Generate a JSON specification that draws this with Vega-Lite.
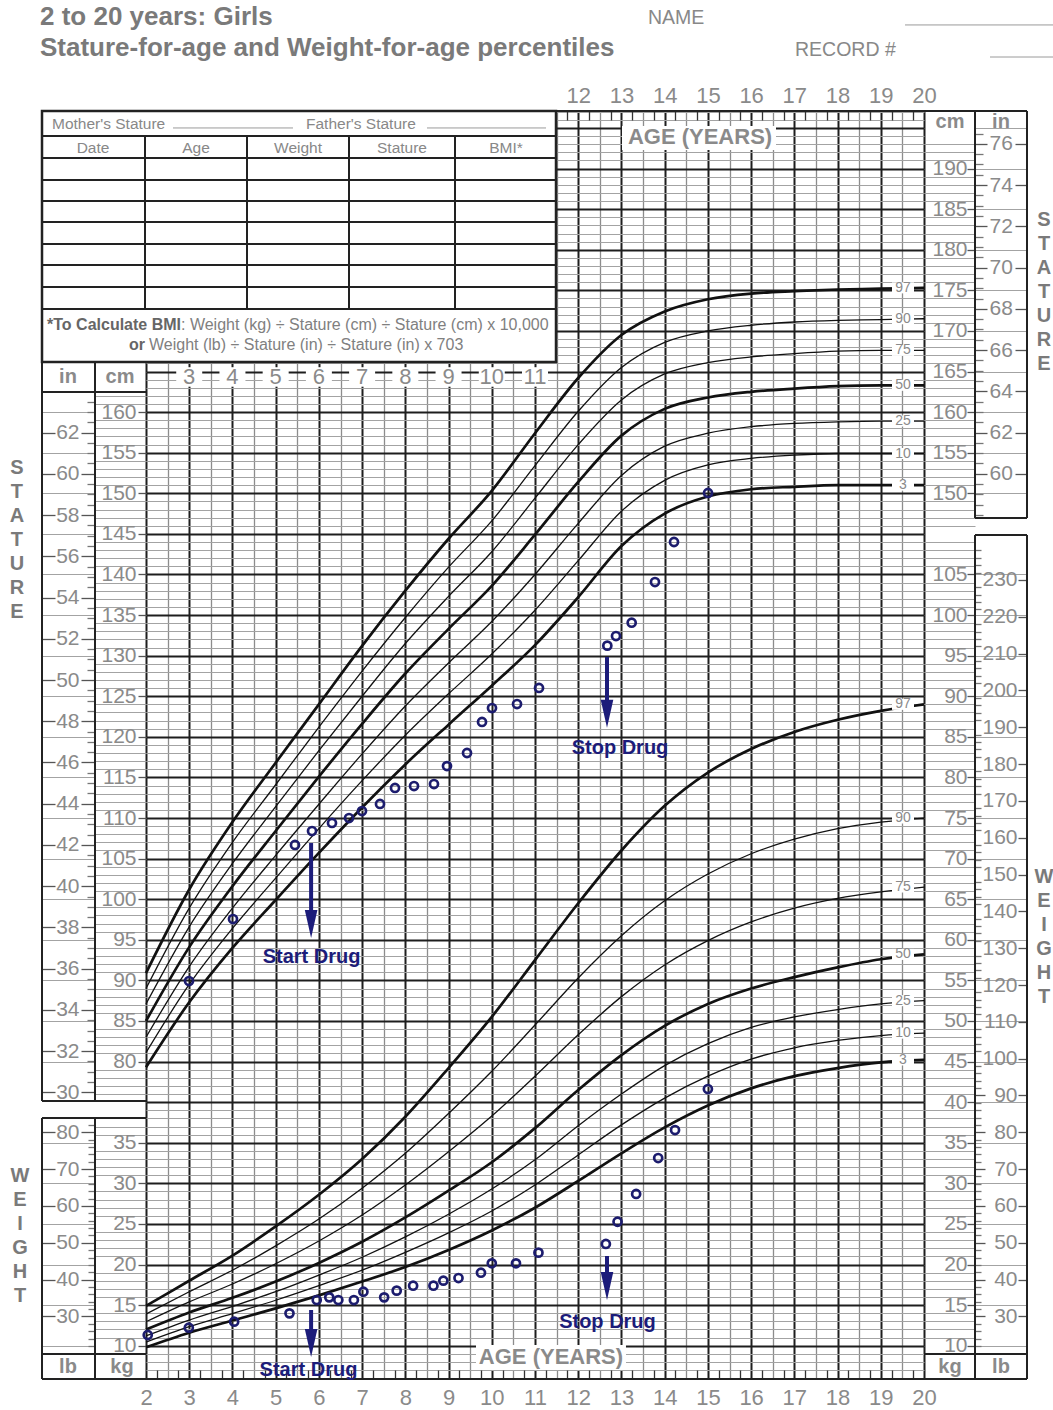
{
"$schema":"https://vega.github.io/schema/vega-lite/v6.json",
"width":778,"height":1268,
"autosize":{"type":"none"},
"padding":{"left":146,"top":111,"right":129,"bottom":31},
"background":"white",
"config":{"view":{"stroke":null},
 "axis":{"domain":false,"grid":false,"labels":false,"ticks":false,"labelFont":"Liberation Sans","labelColor":"#8a8a8a","labelFontSize":21,"labelFlush":false,"labelOverlap":false,"tickColor":"#555555","tickWidth":1.3,"gridOpacity":1},
 "text":{"font":"Liberation Sans"}},
"resolve":{"scale":{"y":"independent"},"axis":{"x":"independent","y":"independent"}},
"datasets":{
 "one":[{"v":50,"a":10}],
 "stat":[
  {"age":2,"3":79.3,"10":81.1,"25":83.0,"50":85.0,"75":87.1,"90":89.0,"97":90.9},
  {"age":3,"3":87.3,"10":89.5,"25":91.7,"50":94.1,"75":96.6,"90":98.9,"97":101.2},
  {"age":4,"3":94.0,"10":96.4,"25":98.9,"50":101.6,"75":104.4,"90":107.0,"97":109.5},
  {"age":5,"3":99.9,"10":102.6,"25":105.4,"50":108.4,"75":111.4,"90":114.1,"97":116.8},
  {"age":6,"3":105.7,"10":108.7,"25":111.7,"50":115.1,"75":118.3,"90":121.2,"97":124.0},
  {"age":7,"3":111.3,"10":114.6,"25":117.9,"50":121.6,"75":125.0,"90":128.1,"97":131.2},
  {"age":8,"3":116.6,"10":120.2,"25":123.8,"50":127.8,"75":131.5,"90":134.7,"97":138.0},
  {"age":9,"3":121.5,"10":125.3,"25":129.1,"50":133.3,"75":137.3,"90":140.9,"97":144.4},
  {"age":10,"3":126.3,"10":130.2,"25":134.2,"50":138.6,"75":142.8,"90":146.6,"97":150.3},
  {"age":11,"3":131.3,"10":135.6,"25":140.0,"50":144.9,"75":149.4,"90":153.4,"97":157.4},
  {"age":12,"3":137.2,"10":141.7,"25":146.3,"50":151.4,"75":156.0,"90":160.1,"97":164.2},
  {"age":13,"3":143.5,"10":147.8,"25":152.2,"50":157.1,"75":161.5,"90":165.5,"97":169.5},
  {"age":14,"3":147.5,"10":151.6,"25":155.8,"50":160.4,"75":164.7,"90":168.6,"97":172.4},
  {"age":15,"3":149.6,"10":153.5,"25":157.4,"50":161.8,"75":166.1,"90":170.0,"97":173.9},
  {"age":16,"3":150.5,"10":154.3,"25":158.2,"50":162.5,"75":166.8,"90":170.7,"97":174.6},
  {"age":17,"3":150.8,"10":154.7,"25":158.6,"50":162.9,"75":167.2,"90":171.1,"97":174.9},
  {"age":18,"3":151.0,"10":154.9,"25":158.8,"50":163.2,"75":167.5,"90":171.3,"97":175.1},
  {"age":19,"3":151.0,"10":154.9,"25":158.9,"50":163.3,"75":167.6,"90":171.4,"97":175.2},
  {"age":20,"3":151.0,"10":154.9,"25":158.9,"50":163.3,"75":167.6,"90":171.5,"97":175.3}],
 "wt":[
  {"age":2,"3":9.8,"10":10.45,"25":11.2,"50":12.0,"75":12.95,"90":13.9,"97":14.9},
  {"age":3,"3":11.6,"10":12.35,"25":13.15,"50":14.1,"75":15.4,"90":16.65,"97":18.0},
  {"age":4,"3":13.1,"10":13.95,"25":14.85,"50":15.9,"75":17.6,"90":19.3,"97":21.1},
  {"age":5,"3":14.6,"10":15.6,"25":16.65,"50":17.9,"75":20.1,"90":22.3,"97":24.7},
  {"age":6,"3":16.2,"10":17.4,"25":18.7,"50":20.2,"75":22.9,"90":25.6,"97":28.6},
  {"age":7,"3":17.9,"10":19.3,"25":20.9,"50":22.8,"75":26.1,"90":29.4,"97":33.0},
  {"age":8,"3":19.7,"10":21.5,"25":23.4,"50":25.8,"75":29.8,"90":33.7,"97":38.2},
  {"age":9,"3":21.8,"10":23.9,"25":26.2,"50":29.1,"75":33.9,"90":38.6,"97":44.2},
  {"age":10,"3":24.2,"10":26.6,"25":29.3,"50":32.6,"75":38.3,"90":43.8,"97":50.5},
  {"age":11,"3":27.0,"10":29.8,"25":32.9,"50":36.8,"75":43.2,"90":49.5,"97":57.5},
  {"age":12,"3":30.3,"10":33.5,"25":37.1,"50":41.5,"75":48.3,"90":55.3,"97":64.5},
  {"age":13,"3":33.7,"10":37.2,"25":41.0,"50":45.8,"75":53.0,"90":60.5,"97":71.0},
  {"age":14,"3":36.9,"10":40.5,"25":44.5,"50":49.4,"75":56.9,"90":64.8,"97":76.5},
  {"age":15,"3":39.6,"10":43.2,"25":47.2,"50":52.1,"75":59.9,"90":68.1,"97":80.6},
  {"age":16,"3":41.7,"10":45.3,"25":49.2,"50":54.0,"75":62.2,"90":70.6,"97":83.5},
  {"age":17,"3":43.2,"10":46.7,"25":50.5,"50":55.4,"75":63.9,"90":72.4,"97":85.6},
  {"age":18,"3":44.2,"10":47.6,"25":51.4,"50":56.6,"75":65.1,"90":73.7,"97":87.1},
  {"age":19,"3":44.9,"10":48.2,"25":52.1,"50":57.6,"75":65.9,"90":74.5,"97":88.2},
  {"age":20,"3":45.2,"10":48.5,"25":52.5,"50":58.2,"75":66.5,"90":75.0,"97":89.0}],
 "sp":[
  {"age":2.995,"cm":89.92},{"age":4.013,"cm":97.56},{"age":5.447,"cm":106.68},{"age":5.841,"cm":108.4},
  {"age":6.303,"cm":109.39},{"age":6.697,"cm":110.0},{"age":6.997,"cm":110.86},{"age":7.414,"cm":111.73},
  {"age":7.761,"cm":113.7},{"age":8.201,"cm":113.94},{"age":8.663,"cm":114.19},{"age":8.964,"cm":116.4},
  {"age":9.427,"cm":118.01},{"age":9.774,"cm":121.83},{"age":10.005,"cm":123.55},{"age":10.584,"cm":124.04},
  {"age":11.093,"cm":126.02},{"age":12.673,"cm":131.23},{"age":12.874,"cm":132.42},{"age":13.237,"cm":134.06},
  {"age":13.776,"cm":139.07},{"age":14.216,"cm":144.0},{"age":15.003,"cm":150.04}],
 "wp":[
  {"age":2.04,"kg":11.32},{"age":2.99,"kg":12.22},{"age":4.04,"kg":12.96},{"age":5.32,"kg":13.99},
  {"age":5.95,"kg":15.63},{"age":6.24,"kg":15.96},{"age":6.45,"kg":15.63},{"age":6.81,"kg":15.63},
  {"age":7.03,"kg":16.65},{"age":7.51,"kg":15.96},{"age":7.8,"kg":16.78},{"age":8.18,"kg":17.39},
  {"age":8.65,"kg":17.39},{"age":8.88,"kg":18.01},{"age":9.23,"kg":18.34},{"age":9.75,"kg":18.99},
  {"age":10.0,"kg":20.15},{"age":10.56,"kg":20.15},{"age":11.08,"kg":21.46},{"age":12.64,"kg":22.53},
  {"age":12.91,"kg":25.27},{"age":13.34,"kg":28.69},{"age":13.85,"kg":33.12},{"age":14.24,"kg":36.57},
  {"age":15.0,"kg":41.62}],
 "frame":[
  {"x1":-0.406,"x2":22.383,"y1":197.09,"y2":197.09},
  {"x1":-0.406,"x2":22.383,"y1":40.9,"y2":40.9},
  {"x1":-0.406,"x2":-0.406,"y1":75.14,"y2":166.17},
  {"x1":0.82,"x2":0.82,"y1":75.14,"y2":166.17},
  {"x1":-0.406,"x2":2,"y1":162.48,"y2":162.48},
  {"x1":-0.406,"x2":2,"y1":75.14,"y2":75.14},
  {"x1":-0.406,"x2":-0.406,"y1":40.9,"y2":73.05},
  {"x1":0.82,"x2":0.82,"y1":40.9,"y2":73.05},
  {"x1":-0.406,"x2":2,"y1":73.05,"y2":73.05},
  {"x1":-0.406,"x2":2,"y1":43.98,"y2":43.98},
  {"x1":21.18,"x2":21.18,"y1":146.96,"y2":197.09},
  {"x1":22.383,"x2":22.383,"y1":146.96,"y2":197.09},
  {"x1":21.18,"x2":22.383,"y1":146.96,"y2":146.96},
  {"x1":21.18,"x2":21.18,"y1":40.9,"y2":144.86},
  {"x1":22.383,"x2":22.383,"y1":40.9,"y2":144.86},
  {"x1":21.18,"x2":22.383,"y1":144.86,"y2":144.86},
  {"x1":20,"x2":22.383,"y1":43.98,"y2":43.98},
  {"x1":-0.406,"x2":11.486,"y1":194.01,"y2":194.01},
  {"x1":-0.406,"x2":11.486,"y1":191.3,"y2":191.3},
  {"x1":-0.406,"x2":11.486,"y1":188.59,"y2":188.59},
  {"x1":-0.406,"x2":11.486,"y1":186.01,"y2":186.01},
  {"x1":-0.406,"x2":11.486,"y1":183.42,"y2":183.42},
  {"x1":-0.406,"x2":11.486,"y1":180.71,"y2":180.71},
  {"x1":-0.406,"x2":11.486,"y1":178.12,"y2":178.12},
  {"x1":-0.406,"x2":11.486,"y1":175.41,"y2":175.41},
  {"x1":-0.406,"x2":11.486,"y1":172.7,"y2":172.7},
  {"x1":1.977,"x2":1.977,"y1":172.7,"y2":194.01},
  {"x1":4.337,"x2":4.337,"y1":172.7,"y2":194.01},
  {"x1":6.697,"x2":6.697,"y1":172.7,"y2":194.01},
  {"x1":9.149,"x2":9.149,"y1":172.7,"y2":194.01}],
 "thin":[
  {"x1":19.561,"x2":22.985,"y1":207.69,"y2":207.69},
  {"x1":21.527,"x2":22.985,"y1":203.74,"y2":203.74},
  {"x1":2.625,"x2":5.401,"y1":195.0,"y2":195.0},
  {"x1":8.501,"x2":11.255,"y1":195.0,"y2":195.0}],
 "tablebox":[{"x1":-0.406,"x2":11.486,"y1":166.17,"y2":197.09}],
 "whitebox":[{"x1":13.013,"x2":16.576,"y1":192.29,"y2":195.25},{"x1":9.635,"x2":13.105,"y1":42.0,"y2":45.08}],
 "titles":[{"t":"2 to 20 years: Girls","age":-0.4525,"cm":208.67},{"t":"Stature-for-age and Weight-for-age percentiles","age":-0.4525,"cm":204.85}],
 "forms":[{"t":"NAME","age":13.615,"cm":208.55},{"t":"RECORD #","age":17.016,"cm":204.61}],
 "headers":[{"t":"in","age":0.195,"cm":164.33},{"t":"cm","age":1.398,"cm":164.33},{"t":"lb","age":0.195,"cm":42.37},{"t":"kg","age":1.445,"cm":42.37},{"t":"cm","age":20.602,"cm":195.74},{"t":"in","age":21.781,"cm":195.74},{"t":"kg","age":20.602,"cm":42.37},{"t":"lb","age":21.781,"cm":42.37}],
 "midages":[{"age":3},{"age":4},{"age":5},{"age":6},{"age":7},{"age":8},{"age":9},{"age":10},{"age":11}],
 "agetitle":[{"t":"AGE (YEARS)","age":14.818,"cm":193.89},{"t":"AGE (YEARS)","age":11.37,"cm":43.61}],
 "letters":[{"t":"S\nT\nA\nT\nU\nR\nE","age":-0.985,"cm":153.12},{"t":"W\nE\nI\nG\nH\nT","age":-0.915,"cm":65.9},{"t":"S\nT\nA\nT\nU\nR\nE","age":22.776,"cm":183.67},{"t":"W\nE\nI\nG\nH\nT","age":22.776,"cm":102.73}],
 "tablehdr":[{"t":"Date","age":0.774,"cm":192.54},{"t":"Age","age":3.157,"cm":192.54},{"t":"Weight","age":5.517,"cm":192.54},{"t":"Stature","age":7.923,"cm":192.54},{"t":"BMI*","age":10.329,"cm":192.54}],
 "parents":[{"t":"Mother's Stature","age":-0.175,"cm":195.49},{"t":"Father's Stature","age":5.702,"cm":195.49}],
 "bmibold":[{"t":"*To Calculate BMI","age":2.81,"cm":170.73},{"t":"or","age":1.977,"cm":168.27}],
 "bmireg":[{"t":": Weight (kg) ÷ Stature (cm) ÷ Stature (cm) x 10,000","age":2.81,"cm":170.73},{"t":"Weight (lb) ÷ Stature (in) ÷ Stature (in) x 703","age":2.07,"cm":168.27}],
 "drugtext":[{"t":"Start Drug","age":5.83,"cm":92.88},{"t":"Stop Drug","age":12.967,"cm":118.63},{"t":"Start Drug","age":5.76,"cm":42.0},{"t":"Stop Drug","age":12.677,"cm":47.92}],
 "arrows":[{"age":5.82,"top":106.92,"head":96.95},{"age":12.666,"top":129.84,"head":122.84},{"age":5.82,"top":49.4,"head":45.33},{"age":12.666,"top":56.05,"head":52.36}]
},
"layer":[
 {"data":{"name":"one"},"mark":{"type":"point","opacity":0},"encoding":{"y":{"field":"v","type":"quantitative","scale":{"domain":[40.9,197.09],"nice":false,"zero":false},"axis":{"title":null,"grid":true,"gridColor":"#a3a3a3","gridWidth":1.2,"tickCount":160}}}},
 {"data":{"name":"one"},"mark":{"type":"point","opacity":0},"encoding":{"x":{"field":"a","type":"quantitative","scale":{"domain":[2,20],"nice":false,"zero":false},"axis":{"title":null,"grid":true,"gridColor":"#8c8c8c","gridWidth":1.3,"values":[2.5,3.5,4.5,5.5,6.5,7.5,8.5,9.5,10.5,11.5,12.5,13.5,14.5,15.5,16.5,17.5,18.5,19.5]}}}},
 {"data":{"name":"one"},"mark":{"type":"point","opacity":0},"encoding":{"y":{"field":"v","type":"quantitative","scale":{"domain":[40.9,197.09],"nice":false,"zero":false},"axis":{"title":null,"grid":true,"gridColor":"#1e1e1e","gridWidth":2,"tickCount":31}}}},
 {"data":{"name":"one"},"mark":{"type":"point","opacity":0},"encoding":{"x":{"field":"a","type":"quantitative","scale":{"domain":[2,20],"nice":false,"zero":false},"axis":{"title":null,"orient":"bottom","grid":true,"gridColor":"#1e1e1e","gridWidth":2,"values":[2,3,4,5,6,7,8,9,10,11,12,13,14,15,16,17,18,19,20],"labels":true,"labelFontSize":22,"tickSize":0,"labelPadding":8}}}},
 {"data":{"name":"one"},"mark":{"type":"point","opacity":0},"encoding":{"x":{"field":"a","type":"quantitative","scale":{"domain":[2,20],"nice":false,"zero":false},"axis":{"title":null,"orient":"top","values":[12,13,14,15,16,17,18,19,20],"labels":true,"labelFontSize":22,"tickSize":0,"labelPadding":4}}}},
 {"data":{"name":"one"},"mark":{"type":"point","opacity":0},"encoding":{"x":{"field":"a","type":"quantitative","scale":{"domain":[2,20],"nice":false,"zero":false},"axis":{"title":null,"orient":"bottom","ticks":true,"tickSize":-9,"tickColor":"#333333","values":[2.25,2.75,3.25,3.75,4.25,4.75,5.25,5.75,6.25,6.75,7.25,7.75,8.25,8.75,9.25,9.75,10.25,10.75,11.25,11.75,12.25,12.75,13.25,13.75,14.25,14.75,15.25,15.75,16.25,16.75,17.25,17.75,18.25,18.75,19.25,19.75]}}}},
 {"data":{"name":"one"},"mark":{"type":"point","opacity":0},"encoding":{"x":{"field":"a","type":"quantitative","scale":{"domain":[2,20],"nice":false,"zero":false},"axis":{"title":null,"orient":"top","ticks":true,"tickSize":-9,"tickColor":"#333333","values":[11.75,12.25,12.75,13.25,13.75,14.25,14.75,15.25,15.75,16.25,16.75,17.25,17.75,18.25,18.75,19.25,19.75]}}}},

 {"data":{"name":"one"},"mark":{"type":"point","opacity":0},"encoding":{"y":{"field":"v","type":"quantitative","scale":{"domain":[40.9,197.09],"nice":false,"zero":false},"axis":{"title":null,"orient":"left","ticks":true,"tickSize":51,"tickColor":"#a3a3a3","tickWidth":1.2,"values":[76,77,78,79,81,82,83,84,86,87,88,89,91,92,93,94,96,97,98,99,101,102,103,104,106,107,108,109,111,112,113,114,116,117,118,119,121,122,123,124,126,127,128,129,131,132,133,134,136,137,138,139,141,142,143,144,146,147,148,149,151,152,153,154,156,157,158,159,161,162]}}}},
 {"data":{"name":"one"},"mark":{"type":"point","opacity":0},"encoding":{"y":{"field":"v","type":"quantitative","scale":{"domain":[40.9,197.09],"nice":false,"zero":false},"axis":{"title":null,"orient":"left","ticks":true,"tickSize":8,"labels":true,"labelPadding":2,"values":[80,85,90,95,100,105,110,115,120,125,130,135,140,145,150,155,160]}}}},
 {"data":{"name":"one"},"mark":{"type":"point","opacity":0},"encoding":{"y":{"field":"v","type":"quantitative","scale":{"domain":[40.9,197.09],"nice":false,"zero":false},"axis":{"title":null,"orient":"left","offset":51,"ticks":true,"tickSize":53,"tickColor":"#a3a3a3","tickWidth":1.2,"values":[80,85,90,95,100,105,110,115,120,125,130,135,140,145,150,155,160]}}}},
 {"data":{"name":"one"},"mark":{"type":"point","opacity":0},"encoding":{"y":{"field":"v","type":"quantitative","scale":{"domain":[16.102,77.594],"nice":false,"zero":false},"axis":{"title":null,"orient":"left","offset":51,"ticks":true,"tickSize":14,"labels":true,"labelPadding":2,"values":[30,32,34,36,38,40,42,44,46,48,50,52,54,56,58,60,62]}}}},
 {"data":{"name":"one"},"mark":{"type":"point","opacity":0},"encoding":{"y":{"field":"v","type":"quantitative","scale":{"domain":[16.102,77.594],"nice":false,"zero":false},"axis":{"title":null,"orient":"left","offset":51,"ticks":true,"tickSize":8,"tickColor":"#777777","values":[30.5,31,31.5,32.5,33,33.5,34.5,35,35.5,36.5,37,37.5,38.5,39,39.5,40.5,41,41.5,42.5,43,43.5,44.5,45,45.5,46.5,47,47.5,48.5,49,49.5,50.5,51,51.5,52.5,53,53.5,54.5,55,55.5,56.5,57,57.5,58.5,59,59.5,60.5,61,61.5,62.5,63,63.5]}}}},
 {"data":{"name":"one"},"mark":{"type":"point","opacity":0},"encoding":{"y":{"field":"v","type":"quantitative","scale":{"domain":[16.102,77.594],"nice":false,"zero":false},"axis":{"title":null,"orient":"right","offset":-882,"ticks":true,"tickSize":13,"values":[30,32,34,36,38,40,42,44,46,48,50,52,54,56,58,60,62]}}}},
 {"data":{"name":"one"},"mark":{"type":"point","opacity":0},"encoding":{"y":{"field":"v","type":"quantitative","scale":{"domain":[5.9,162.09],"nice":false,"zero":false},"axis":{"title":null,"orient":"left","ticks":true,"tickSize":51,"tickColor":"#a3a3a3","tickWidth":1.2,"values":[11,12,13,14,16,17,18,19,21,22,23,24,26,27,28,29,31,32,33,34,36,37]}}}},
 {"data":{"name":"one"},"mark":{"type":"point","opacity":0},"encoding":{"y":{"field":"v","type":"quantitative","scale":{"domain":[5.9,162.09],"nice":false,"zero":false},"axis":{"title":null,"orient":"left","ticks":true,"tickSize":8,"labels":true,"labelPadding":2,"values":[10,15,20,25,30,35]}}}},
 {"data":{"name":"one"},"mark":{"type":"point","opacity":0},"encoding":{"y":{"field":"v","type":"quantitative","scale":{"domain":[5.9,162.09],"nice":false,"zero":false},"axis":{"title":null,"orient":"left","offset":51,"ticks":true,"tickSize":53,"tickColor":"#a3a3a3","tickWidth":1.2,"values":[10,15,20,25,30,35]}}}},
 {"data":{"name":"one"},"mark":{"type":"point","opacity":0},"encoding":{"y":{"field":"v","type":"quantitative","scale":{"domain":[13.007,357.35],"nice":false,"zero":false},"axis":{"title":null,"orient":"left","offset":51,"ticks":true,"tickSize":14,"labels":true,"labelPadding":2,"values":[30,40,50,60,70,80]}}}},
 {"data":{"name":"one"},"mark":{"type":"point","opacity":0},"encoding":{"y":{"field":"v","type":"quantitative","scale":{"domain":[13.007,357.35],"nice":false,"zero":false},"axis":{"title":null,"orient":"left","offset":51,"ticks":true,"tickSize":7,"tickColor":"#777777","values":[22,24,26,28,32,34,36,38,42,44,46,48,52,54,56,58,62,64,66,68,72,74,76,78,82]}}}},
 {"data":{"name":"one"},"mark":{"type":"point","opacity":0},"encoding":{"y":{"field":"v","type":"quantitative","scale":{"domain":[13.007,357.35],"nice":false,"zero":false},"axis":{"title":null,"orient":"right","offset":-882,"ticks":true,"tickSize":13,"values":[30,40,50,60,70,80]}}}},
 {"data":{"name":"one"},"mark":{"type":"point","opacity":0},"encoding":{"y":{"field":"v","type":"quantitative","scale":{"domain":[40.9,197.09],"nice":false,"zero":false},"axis":{"title":null,"orient":"right","ticks":true,"tickSize":51,"tickColor":"#a3a3a3","tickWidth":1.2,"values":[46,47,48,49,51,52,53,54,56,57,58,59,61,62,63,64,66,67,68,69,71,72,73,74,76,77,78,79,81,82,83,84,86,87,88,89,91,92,93,94,96,97,98,99,101,102,103,104,106,107,108,109,111,112,113,114,116,117,118,119,121,122,123,124,126,127,128,129,131,132,133,134,136,137,138,139,141,142,143,144,146,147,148,149,151,152,153,154,156,157,158,159,161,162,163,164,166,167,168,169,171,172,173,174,176,177,178,179,181,182,183,184,186,187,188,189,191,192,193]}}}},
 {"data":{"name":"one"},"mark":{"type":"point","opacity":0},"encoding":{"y":{"field":"v","type":"quantitative","scale":{"domain":[40.9,197.09],"nice":false,"zero":false},"axis":{"title":null,"orient":"right","labels":true,"labelAlign":"right","labelPadding":43,"tickSize":0,"values":[150,155,160,165,170,175,180,185,190]}}}},
 {"data":{"name":"one"},"mark":{"type":"point","opacity":0},"encoding":{"y":{"field":"v","type":"quantitative","scale":{"domain":[5.9,162.09],"nice":false,"zero":false},"axis":{"title":null,"orient":"right","labels":true,"labelAlign":"right","labelPadding":43,"tickSize":0,"values":[10,15,20,25,30,35,40,45,50,55,60,65,70,75,80,85,90,95,100,105]}}}},
 {"data":{"name":"one"},"mark":{"type":"point","opacity":0},"encoding":{"y":{"field":"v","type":"quantitative","scale":{"domain":[40.9,197.09],"nice":false,"zero":false},"axis":{"title":null,"orient":"left","offset":-829,"ticks":true,"tickSize":8,"values":[45,50,55,60,65,70,75,80,85,90,95,100,105,110,115,120,125,130,135,140,150,155,160,165,170,175,180,185,190]}}}},
 {"data":{"name":"one"},"mark":{"type":"point","opacity":0},"encoding":{"y":{"field":"v","type":"quantitative","scale":{"domain":[40.9,197.09],"nice":false,"zero":false},"axis":{"title":null,"orient":"right","offset":51,"ticks":true,"tickSize":52,"tickColor":"#a3a3a3","tickWidth":1.2,"values":[150,155,160,165,170,175,180,185,190,195]}}}},
 {"data":{"name":"one"},"mark":{"type":"point","opacity":0},"encoding":{"y":{"field":"v","type":"quantitative","scale":{"domain":[5.9,162.09],"nice":false,"zero":false},"axis":{"title":null,"orient":"right","offset":51,"ticks":true,"tickSize":52,"tickColor":"#a3a3a3","tickWidth":1.2,"values":[10,15,20,25,30,35,40,45,50,55,60,65,70,75,80,85,90,95,100,105]}}}},
 {"data":{"name":"one"},"mark":{"type":"point","opacity":0},"encoding":{"y":{"field":"v","type":"quantitative","scale":{"domain":[16.102,77.594],"nice":false,"zero":false},"axis":{"title":null,"orient":"right","offset":51,"ticks":true,"tickSize":12,"labels":true,"labelPadding":2,"values":[60,62,64,66,68,70,72,74,76]}}}},
 {"data":{"name":"one"},"mark":{"type":"point","opacity":0},"encoding":{"y":{"field":"v","type":"quantitative","scale":{"domain":[16.102,77.594],"nice":false,"zero":false},"axis":{"title":null,"orient":"right","offset":51,"ticks":true,"tickSize":8,"tickColor":"#777777","values":[58,58.5,59,59.5,60.5,61,61.5,62.5,63,63.5,64.5,65,65.5,66.5,67,67.5,68.5,69,69.5,70.5,71,71.5,72.5,73,73.5,74.5,75,75.5,76.5]}}}},
 {"data":{"name":"one"},"mark":{"type":"point","opacity":0},"encoding":{"y":{"field":"v","type":"quantitative","scale":{"domain":[16.102,77.594],"nice":false,"zero":false},"axis":{"title":null,"orient":"left","offset":-881,"ticks":true,"tickSize":12,"values":[60,62,64,66,68,70,72,74,76]}}}},
 {"data":{"name":"one"},"mark":{"type":"point","opacity":0},"encoding":{"y":{"field":"v","type":"quantitative","scale":{"domain":[13.007,357.35],"nice":false,"zero":false},"axis":{"title":null,"orient":"right","offset":51,"labels":true,"labelAlign":"right","labelPadding":42,"tickSize":0,"values":[30,40,50,60,70,80,90,100,110,120,130,140,150,160,170,180,190,200,210,220,230]}}}},
 {"data":{"name":"one"},"mark":{"type":"point","opacity":0},"encoding":{"y":{"field":"v","type":"quantitative","scale":{"domain":[13.007,357.35],"nice":false,"zero":false},"axis":{"title":null,"orient":"right","offset":51,"ticks":true,"tickSize":10,"values":[30,40,50,60,70,80,90]}}}},
 {"data":{"name":"one"},"mark":{"type":"point","opacity":0},"encoding":{"y":{"field":"v","type":"quantitative","scale":{"domain":[13.007,357.35],"nice":false,"zero":false},"axis":{"title":null,"orient":"left","offset":-881,"ticks":true,"tickSize":9,"values":[30,40,50,60,70,80,90,100,110,120,130,140,150,160,170,180,190,200,210,220,230]}}}},
 {"data":{"name":"one"},"mark":{"type":"point","opacity":0},"encoding":{"y":{"field":"v","type":"quantitative","scale":{"domain":[13.007,357.35],"nice":false,"zero":false},"axis":{"title":null,"orient":"right","offset":51,"ticks":true,"tickSize":6,"tickColor":"#777777","values":[22,24,26,28,32,34,36,38,42,44,46,48,52,54,56,58,62,64,66,68,72,74,76,78,82,84,86,88,92,94,96,98,102,104,106,108,112,114,116,118,122,124,126,128,132,134,136,138,142,144,146,148,152,154,156,158,162,164,166,168,172,174,176,178,182,184,186,188,192,194,196,198,202,204,206,208,212,214,216,218,222,224,226,228,232,234,236,238]}}}},

 {"data":{"name":"stat"},"transform":[{"fold":["3","10","25","50","75","90","97"],"as":["pct","val"]},{"filter":"datum.pct == '10' || datum.pct == '25' || datum.pct == '75' || datum.pct == '90'"}],
  "mark":{"type":"line","interpolate":"monotone","color":"#111111","strokeWidth":1.3},
  "encoding":{"x":{"field":"age","type":"quantitative","scale":{"domain":[2,20],"nice":false,"zero":false},"axis":null},
   "y":{"field":"val","type":"quantitative","scale":{"domain":[40.9,197.09],"nice":false,"zero":false},"axis":null},
   "detail":{"field":"pct","type":"nominal"}}},
 {"data":{"name":"stat"},"transform":[{"fold":["3","10","25","50","75","90","97"],"as":["pct","val"]},{"filter":"datum.pct == '3' || datum.pct == '50' || datum.pct == '97'"}],
  "mark":{"type":"line","interpolate":"monotone","color":"#111111","strokeWidth":2.7},
  "encoding":{"x":{"field":"age","type":"quantitative","scale":{"domain":[2,20],"nice":false,"zero":false},"axis":null},
   "y":{"field":"val","type":"quantitative","scale":{"domain":[40.9,197.09],"nice":false,"zero":false},"axis":null},
   "detail":{"field":"pct","type":"nominal"}}},
 {"data":{"name":"wt"},"transform":[{"fold":["3","10","25","50","75","90","97"],"as":["pct","val"]},{"filter":"datum.pct == '10' || datum.pct == '25' || datum.pct == '75' || datum.pct == '90'"}],
  "mark":{"type":"line","interpolate":"monotone","color":"#111111","strokeWidth":1.3},
  "encoding":{"x":{"field":"age","type":"quantitative","scale":{"domain":[2,20],"nice":false,"zero":false},"axis":null},
   "y":{"field":"val","type":"quantitative","scale":{"domain":[5.9,162.09],"nice":false,"zero":false},"axis":null},
   "detail":{"field":"pct","type":"nominal"}}},
 {"data":{"name":"wt"},"transform":[{"fold":["3","10","25","50","75","90","97"],"as":["pct","val"]},{"filter":"datum.pct == '3' || datum.pct == '50' || datum.pct == '97'"}],
  "mark":{"type":"line","interpolate":"monotone","color":"#111111","strokeWidth":2.7},
  "encoding":{"x":{"field":"age","type":"quantitative","scale":{"domain":[2,20],"nice":false,"zero":false},"axis":null},
   "y":{"field":"val","type":"quantitative","scale":{"domain":[5.9,162.09],"nice":false,"zero":false},"axis":null},
   "detail":{"field":"pct","type":"nominal"}}},

 {"data":{"name":"stat"},"transform":[{"filter":"datum.age == 20"},{"fold":["3","10","25","50","75","90","97"],"as":["pct","val"]}],
  "mark":{"type":"point","shape":"M-1,-0.5L1,-0.5L1,0.5L-1,0.5Z","filled":true,"color":"white","opacity":1,"size":484},
  "encoding":{"x":{"datum":19.514,"type":"quantitative","scale":{"domain":[2,20],"nice":false,"zero":false},"axis":null},"y":{"field":"val","type":"quantitative","scale":{"domain":[40.9,197.09],"nice":false,"zero":false},"axis":null}}},
 {"data":{"name":"stat"},"transform":[{"filter":"datum.age == 20"},{"fold":["3","10","25","50","75","90","97"],"as":["pct","val"]}],
  "mark":{"type":"text","fontSize":14,"color":"#8a8a8a","baseline":"middle","align":"center"},
  "encoding":{"x":{"datum":19.514,"type":"quantitative","scale":{"domain":[2,20],"nice":false,"zero":false},"axis":null},"y":{"field":"val","type":"quantitative","scale":{"domain":[40.9,197.09],"nice":false,"zero":false},"axis":null},"text":{"field":"pct"}}},
 {"data":{"name":"wt"},"transform":[{"filter":"datum.age == 20"},{"fold":["3","10","25","50","75","90","97"],"as":["pct","val"]}],
  "mark":{"type":"point","shape":"M-1,-0.5L1,-0.5L1,0.5L-1,0.5Z","filled":true,"color":"white","opacity":1,"size":484},
  "encoding":{"x":{"datum":19.514,"type":"quantitative","scale":{"domain":[2,20],"nice":false,"zero":false},"axis":null},"y":{"field":"val","type":"quantitative","scale":{"domain":[5.9,162.09],"nice":false,"zero":false},"axis":null}}},
 {"data":{"name":"wt"},"transform":[{"filter":"datum.age == 20"},{"fold":["3","10","25","50","75","90","97"],"as":["pct","val"]}],
  "mark":{"type":"text","fontSize":14,"color":"#8a8a8a","baseline":"middle","align":"center"},
  "encoding":{"x":{"datum":19.514,"type":"quantitative","scale":{"domain":[2,20],"nice":false,"zero":false},"axis":null},"y":{"field":"val","type":"quantitative","scale":{"domain":[5.9,162.09],"nice":false,"zero":false},"axis":null},"text":{"field":"pct"}}},

 {"data":{"name":"tablebox"},"mark":{"type":"rect","fill":"white","stroke":"#222222","strokeWidth":2.5},
  "encoding":{"x":{"field":"x1","type":"quantitative","scale":{"domain":[2,20],"nice":false,"zero":false},"axis":null},"x2":{"field":"x2"},"y":{"field":"y1","type":"quantitative","scale":{"domain":[40.9,197.09],"nice":false,"zero":false},"axis":null},"y2":{"field":"y2"}}},
 {"data":{"name":"whitebox"},"mark":{"type":"rect","fill":"white"},
  "encoding":{"x":{"field":"x1","type":"quantitative","scale":{"domain":[2,20],"nice":false,"zero":false},"axis":null},"x2":{"field":"x2"},"y":{"field":"y1","type":"quantitative","scale":{"domain":[40.9,197.09],"nice":false,"zero":false},"axis":null},"y2":{"field":"y2"}}},
 {"data":{"name":"midages"},"mark":{"type":"point","shape":"M-1,-0.75L1,-0.75L1,0.75L-1,0.75Z","filled":true,"color":"white","opacity":1,"size":676},
  "encoding":{"x":{"field":"age","type":"quantitative","scale":{"domain":[2,20],"nice":false,"zero":false},"axis":null},"y":{"datum":164.33,"type":"quantitative","scale":{"domain":[40.9,197.09],"nice":false,"zero":false},"axis":null}}},
 {"data":{"name":"frame"},"mark":{"type":"rule","color":"#222222","strokeWidth":2},
  "encoding":{"x":{"field":"x1","type":"quantitative","scale":{"domain":[2,20],"nice":false,"zero":false},"axis":null},"x2":{"field":"x2"},"y":{"field":"y1","type":"quantitative","scale":{"domain":[40.9,197.09],"nice":false,"zero":false},"axis":null},"y2":{"field":"y2"}}},
 {"data":{"name":"thin"},"mark":{"type":"rule","color":"#9a9a9a","strokeWidth":1},
  "encoding":{"x":{"field":"x1","type":"quantitative","scale":{"domain":[2,20],"nice":false,"zero":false},"axis":null},"x2":{"field":"x2"},"y":{"field":"y1","type":"quantitative","scale":{"domain":[40.9,197.09],"nice":false,"zero":false},"axis":null},"y2":{"field":"y2"}}},

 {"data":{"name":"sp"},"mark":{"type":"point","shape":"circle","filled":false,"color":"#1c1c6e","strokeWidth":2.7,"size":65,"opacity":1},
  "encoding":{"x":{"field":"age","type":"quantitative","scale":{"domain":[2,20],"nice":false,"zero":false},"axis":null},"y":{"field":"cm","type":"quantitative","scale":{"domain":[40.9,197.09],"nice":false,"zero":false},"axis":null}}},
 {"data":{"name":"wp"},"mark":{"type":"point","shape":"circle","filled":false,"color":"#1c1c6e","strokeWidth":2.7,"size":65,"opacity":1},
  "encoding":{"x":{"field":"age","type":"quantitative","scale":{"domain":[2,20],"nice":false,"zero":false},"axis":null},"y":{"field":"kg","type":"quantitative","scale":{"domain":[5.9,162.09],"nice":false,"zero":false},"axis":null}}},

 {"data":{"name":"arrows"},"mark":{"type":"rule","color":"#1c1c7a","strokeWidth":4},
  "encoding":{"x":{"field":"age","type":"quantitative","scale":{"domain":[2,20],"nice":false,"zero":false},"axis":null},"y":{"field":"top","type":"quantitative","scale":{"domain":[40.9,197.09],"nice":false,"zero":false},"axis":null},"y2":{"field":"head"}}},
 {"data":{"name":"arrows"},"mark":{"type":"point","shape":"M-0.45,-1L0.45,-1L0,1Z","filled":true,"color":"#1c1c7a","opacity":1,"size":784},
  "encoding":{"x":{"field":"age","type":"quantitative","scale":{"domain":[2,20],"nice":false,"zero":false},"axis":null},"y":{"field":"head","type":"quantitative","scale":{"domain":[40.9,197.09],"nice":false,"zero":false},"axis":null}}},
 {"data":{"name":"drugtext"},"mark":{"type":"text","fontSize":20,"fontWeight":"bold","color":"#1c1c7a","align":"center","baseline":"middle"},
  "encoding":{"x":{"field":"age","type":"quantitative","scale":{"domain":[2,20],"nice":false,"zero":false},"axis":null},"y":{"field":"cm","type":"quantitative","scale":{"domain":[40.9,197.09],"nice":false,"zero":false},"axis":null},"text":{"field":"t"}}},

 {"data":{"name":"titles"},"mark":{"type":"text","fontSize":26,"fontWeight":"bold","color":"#7a7a7a","align":"left","baseline":"middle"},
  "encoding":{"x":{"field":"age","type":"quantitative","scale":{"domain":[2,20],"nice":false,"zero":false},"axis":null},"y":{"field":"cm","type":"quantitative","scale":{"domain":[40.9,197.09],"nice":false,"zero":false},"axis":null},"text":{"field":"t"}}},
 {"data":{"name":"forms"},"mark":{"type":"text","fontSize":19.5,"color":"#888888","align":"left","baseline":"middle"},
  "encoding":{"x":{"field":"age","type":"quantitative","scale":{"domain":[2,20],"nice":false,"zero":false},"axis":null},"y":{"field":"cm","type":"quantitative","scale":{"domain":[40.9,197.09],"nice":false,"zero":false},"axis":null},"text":{"field":"t"}}},
 {"data":{"name":"headers"},"mark":{"type":"text","fontSize":20,"fontWeight":"bold","color":"#8a8a8a","align":"center","baseline":"middle"},
  "encoding":{"x":{"field":"age","type":"quantitative","scale":{"domain":[2,20],"nice":false,"zero":false},"axis":null},"y":{"field":"cm","type":"quantitative","scale":{"domain":[40.9,197.09],"nice":false,"zero":false},"axis":null},"text":{"field":"t"}}},
 {"data":{"name":"midages"},"mark":{"type":"text","fontSize":22,"color":"#8a8a8a","align":"center","baseline":"middle"},
  "encoding":{"x":{"field":"age","type":"quantitative","scale":{"domain":[2,20],"nice":false,"zero":false},"axis":null},"y":{"datum":164.33,"type":"quantitative","scale":{"domain":[40.9,197.09],"nice":false,"zero":false},"axis":null},"text":{"field":"age"}}},
 {"data":{"name":"agetitle"},"mark":{"type":"text","fontSize":22,"fontWeight":"bold","color":"#8a8a8a","align":"center","baseline":"middle"},
  "encoding":{"x":{"field":"age","type":"quantitative","scale":{"domain":[2,20],"nice":false,"zero":false},"axis":null},"y":{"field":"cm","type":"quantitative","scale":{"domain":[40.9,197.09],"nice":false,"zero":false},"axis":null},"text":{"field":"t"}}},
 {"data":{"name":"letters"},"mark":{"type":"text","fontSize":20,"fontWeight":"bold","color":"#7a7a7a","align":"center","baseline":"middle","lineBreak":"\n","lineHeight":24},
  "encoding":{"x":{"field":"age","type":"quantitative","scale":{"domain":[2,20],"nice":false,"zero":false},"axis":null},"y":{"field":"cm","type":"quantitative","scale":{"domain":[40.9,197.09],"nice":false,"zero":false},"axis":null},"text":{"field":"t"}}},
 {"data":{"name":"tablehdr"},"mark":{"type":"text","fontSize":15.5,"color":"#888888","align":"center","baseline":"middle"},
  "encoding":{"x":{"field":"age","type":"quantitative","scale":{"domain":[2,20],"nice":false,"zero":false},"axis":null},"y":{"field":"cm","type":"quantitative","scale":{"domain":[40.9,197.09],"nice":false,"zero":false},"axis":null},"text":{"field":"t"}}},
 {"data":{"name":"parents"},"mark":{"type":"text","fontSize":15.5,"color":"#888888","align":"left","baseline":"middle"},
  "encoding":{"x":{"field":"age","type":"quantitative","scale":{"domain":[2,20],"nice":false,"zero":false},"axis":null},"y":{"field":"cm","type":"quantitative","scale":{"domain":[40.9,197.09],"nice":false,"zero":false},"axis":null},"text":{"field":"t"}}},
 {"data":{"name":"bmibold"},"mark":{"type":"text","fontSize":16,"fontWeight":"bold","color":"#666666","align":"right","baseline":"middle"},
  "encoding":{"x":{"field":"age","type":"quantitative","scale":{"domain":[2,20],"nice":false,"zero":false},"axis":null},"y":{"field":"cm","type":"quantitative","scale":{"domain":[40.9,197.09],"nice":false,"zero":false},"axis":null},"text":{"field":"t"}}},
 {"data":{"name":"bmireg"},"mark":{"type":"text","fontSize":16,"color":"#808080","align":"left","baseline":"middle"},
  "encoding":{"x":{"field":"age","type":"quantitative","scale":{"domain":[2,20],"nice":false,"zero":false},"axis":null},"y":{"field":"cm","type":"quantitative","scale":{"domain":[40.9,197.09],"nice":false,"zero":false},"axis":null},"text":{"field":"t"}}}
]
}
